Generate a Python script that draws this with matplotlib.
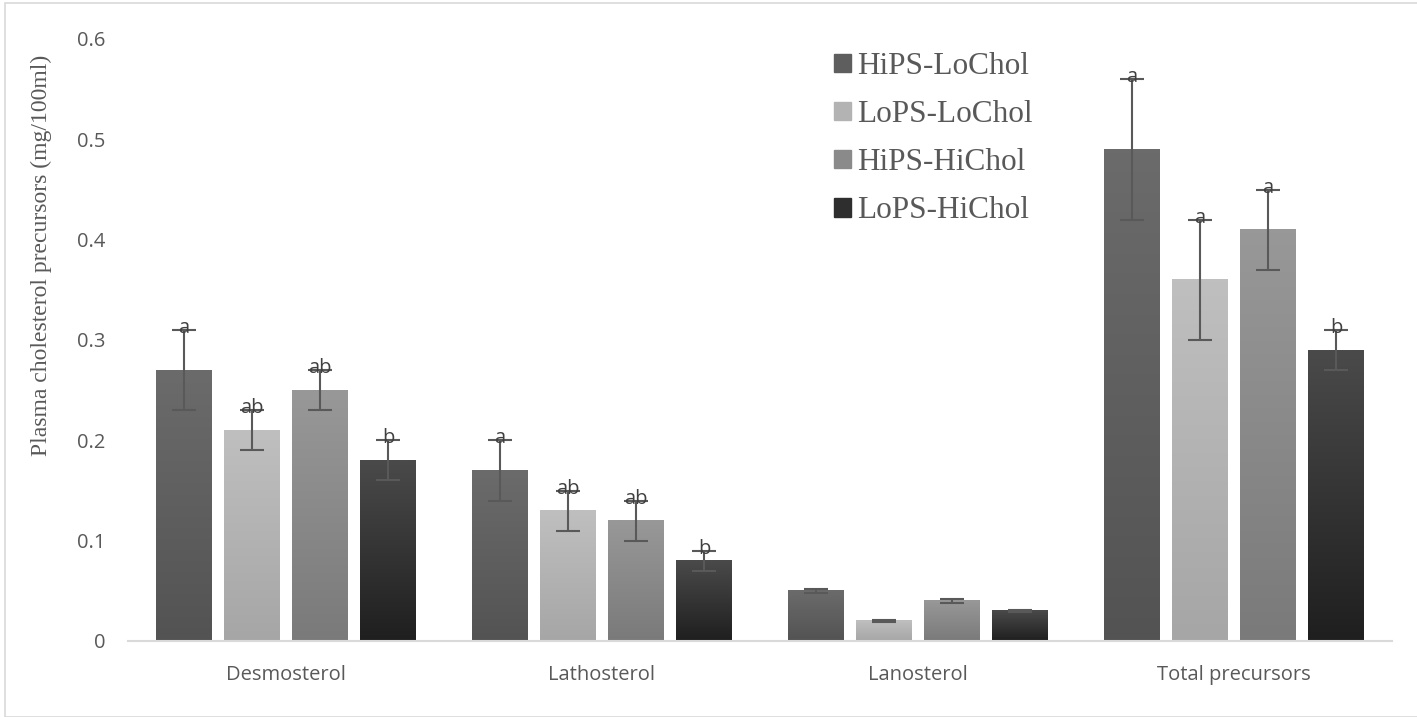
import numpy as np
import matplotlib
matplotlib.use("Agg")
import matplotlib.pyplot as plt
from matplotlib.colors import LinearSegmentedColormap
from matplotlib.patches import Rectangle

# Data
categories = ["Desmosterol", "Lathosterol", "Lanosterol", "Total precursors"]
series = ["HiPS-LoChol", "LoPS-LoChol", "HiPS-HiChol", "LoPS-HiChol"]
means = [
    [0.27, 0.17, 0.05, 0.49],
    [0.21, 0.13, 0.02, 0.36],
    [0.25, 0.12, 0.04, 0.41],
    [0.18, 0.08, 0.03, 0.29],
]
errors = [
    [0.04, 0.03, 0.002, 0.07],
    [0.02, 0.02, 0.001, 0.06],
    [0.02, 0.02, 0.002, 0.04],
    [0.02, 0.01, 0.001, 0.02],
]
letters = [
    ["a", "a", "", "a"],
    ["ab", "ab", "", "a"],
    ["ab", "ab", "", "a"],
    ["b", "b", "", "b"],
]

# gradient colours (top, bottom) per series
grad_colors = [
    ("#6b6b6b", "#535353"),
    ("#bfbfbf", "#a6a6a6"),
    ("#989898", "#7a7a7a"),
    ("#4a4a4a", "#1f1f1f"),
]
legend_colors = ["#5e5e5e", "#b3b3b3", "#8a8a8a", "#2e2e2e"]

text_gray = "#595959"

fig = plt.figure(figsize=(14.17, 7.17), dpi=100)
ax = fig.add_axes([128 / 1417, 1 - 641 / 717, 1264 / 1417, 602 / 717])

# outer frame of the chart area
fig.patches.append(Rectangle((5 / 1417, 0), 1.2, 1 - 3 / 717, transform=fig.transFigure,
                             fill=False, edgecolor="#d9d9d9", linewidth=1.2))

x = np.arange(len(categories))
pitch = 68 / 316
width = 56 / 316
offsets = (np.arange(len(series)) - 1.5) * pitch

for i, name in enumerate(series):
    xs = x + offsets[i]
    bars = ax.bar(xs, means[i], width, color=legend_colors[i], label=name, zorder=2)
    cmap = LinearSegmentedColormap.from_list("g%d" % i, [grad_colors[i][1], grad_colors[i][0]])
    grad = np.linspace(0, 1, 100).reshape(-1, 1)
    for b in bars:
        bx, bw, bh = b.get_x(), b.get_width(), b.get_height()
        ax.imshow(grad, extent=[bx, bx + bw, 0, bh], origin="lower", aspect="auto",
                  cmap=cmap, zorder=2.1, interpolation="bilinear")
    ax.errorbar(xs, means[i], yerr=errors[i], fmt="none", ecolor=text_gray,
                elinewidth=1.5, capsize=8.6, capthick=1.5, zorder=3)
    for xi, m, e, lab in zip(xs, means[i], errors[i], letters[i]):
        if lab:
            ax.text(xi, m + e - 0.003, lab, ha="center", va="baseline", fontsize=14.5,
                    family="Open Sans", color="#404040", zorder=4)

ax.set_xlim(-0.5, 3.5)
ax.set_ylim(0, 0.6)
ax.set_xticks(x)
ax.set_xticklabels(categories, fontsize=14.5, family="Open Sans", color=text_gray)
ax.set_yticks([0, 0.1, 0.2, 0.3, 0.4, 0.5, 0.6])
ax.set_yticklabels(["0", "0.1", "0.2", "0.3", "0.4", "0.5", "0.6"],
                   fontsize=14.5, family="Open Sans", color=text_gray)
ax.tick_params(axis="both", length=0)
ax.tick_params(axis="y", pad=16)
ax.tick_params(axis="x", pad=17)

for s in ["top", "right", "left"]:
    ax.spines[s].set_visible(False)
ax.spines["bottom"].set_color("#d9d9d9")
ax.spines["bottom"].set_linewidth(1.5)

ax.set_ylabel("Plasma cholesterol precursors (mg/100ml)", family="Liberation Serif",
              fontsize=17, color=text_gray)
ax.yaxis.set_label_coords(-0.060, 0.641)

handles = [Rectangle((0, 0), 1, 1, color=c) for c in legend_colors]
leg = ax.legend(handles, series, loc="upper left", bbox_to_anchor=(678 / 1264, 1.025),
                frameon=False, prop={"family": "Liberation Serif", "size": 22.5},
                handlelength=0.54, handleheight=0.54, handletextpad=0.2, labelspacing=0.61)
for t in leg.get_texts():
    t.set_color(text_gray)

fig.savefig("out.png", dpi=100)
